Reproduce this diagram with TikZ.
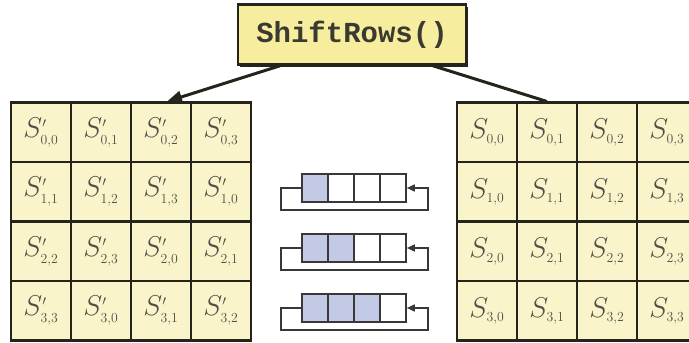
\documentclass[tikz,border=0pt]{standalone}
\usepackage{fontspec}
\setmonofont{Liberation Mono}
\usetikzlibrary{arrows.meta,shadows}
\DeclareMathSizes{24.88}{24.88}{12}{10}
\definecolor{butter}{HTML}{FAF4CB}
\definecolor{lemon}{HTML}{F6EE9E}
\definecolor{lilac}{HTML}{C3CAE6}
\definecolor{ink}{HTML}{25241A}
\definecolor{wire}{HTML}{383838}
\newcommand{\zell}[1]{\scalebox{1.15}{$#1$}}

\begin{document}
\begin{tikzpicture}[x=1pt,y=1pt]
  \tikzset{
    feld/.style={rectangle,draw=ink,fill=butter,line width=2.5pt,minimum width=60pt,minimum height=59.5pt,inner sep=0pt,text=ink!80,font=\fontsize{24.88}{25}\selectfont},
    kasten/.style={rectangle,draw=ink,fill=lemon,line width=2.6pt,minimum width=228pt,minimum height=60pt,text=ink!90,font=\ttfamily\bfseries\fontsize{29}{29}\selectfont,drop shadow={shadow xshift=2pt,shadow yshift=-3pt,fill=ink,opacity=1}},
    bit/.style={rectangle,draw=wire,fill=white,line width=1.6pt,minimum width=26pt,minimum height=28pt,inner sep=0pt},
    voll/.style={bit,fill=lilac},
    pfeil/.style={draw=ink,line width=3pt,-{Triangle[length=15pt,width=12pt]}},
    strich/.style={draw=ink,line width=3pt},
    ruck/.style={draw=wire,line width=1.6pt,-{Triangle[length=8pt,width=7pt]}}
  }
  \clip (0,0) rectangle (689,343);
  % state after the shift (left) and before it (right)
  \foreach \i in {0,...,3}{
    \foreach \j in {0,...,3}{
      \pgfmathtruncatemacro{\k}{mod(\i+\j,4)}
      \node[feld] (a\i\j) at (41+60*\j,210.5-59.5*\i) {\zell{S'_{\i,\k}}};
      \node[feld] (s\i\j) at (487+60*\j,210.5-59.5*\i) {\zell{S_{\i,\j}}};
    }
  }
  \node[kasten] (titel) at (352,308.5) {ShiftRows()};
  \draw[pfeil] ([xshift=-72pt]titel.south) -- ([xshift=6pt]a02.north);
  \draw[strich] ([xshift=81pt]titel.south) -- (s01.north);
  % rotating registers, one per shifted row
  \foreach \r/\y in {1/155,2/95,3/35}{
    \foreach \k in {1,...,4}{
      \ifnum\k>\r
        \node[bit] (q\r\k) at (289+26*\k,\y) {};
      \else
        \node[voll] (q\r\k) at (289+26*\k,\y) {};
      \fi
    }
    \draw[ruck] (q\r1.west) -- ++(-20,0) -- ++(0,-22) -| ([xshift=21pt]q\r4.east) -- (q\r4.east);
  }
\end{tikzpicture}
\end{document}
